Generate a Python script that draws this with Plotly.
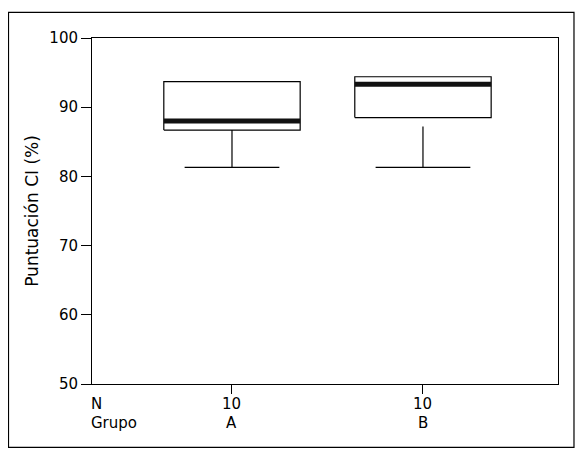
import plotly.graph_objects as go

# ---- data ----
groups = ["A", "B"]
n_values = [10, 10]
q1 = [86.7, 88.5]
median = [88.0, 93.3]
q3 = [93.7, 94.4]
whisker_start = [86.7, 87.2]
whisker_low = [81.3, 81.3]
y_ticks = [50, 60, 70, 80, 90, 100]

BOX_HW = 0.357
CAP_HW = 0.248
FONT = "DejaVu Sans, Liberation Sans, Arial, sans-serif"
ROW1_Y = -0.0578
ROW2_Y = -0.1127

fig = go.Figure()
for i, g in enumerate(groups):
    c = i
    fig.add_trace(go.Scatter(
        x=[c - BOX_HW, c + BOX_HW, c + BOX_HW, c - BOX_HW, c - BOX_HW],
        y=[q1[i], q1[i], q3[i], q3[i], q1[i]],
        mode="lines", line=dict(color="black", width=1.2),
        showlegend=False, hoverinfo="skip"))
    fig.add_trace(go.Scatter(
        x=[c - BOX_HW, c + BOX_HW], y=[median[i], median[i]],
        mode="lines", line=dict(color="#111111", width=5),
        showlegend=False, hoverinfo="skip"))
    fig.add_trace(go.Scatter(
        x=[c, c], y=[whisker_start[i], whisker_low[i]],
        mode="lines", line=dict(color="black", width=1.2),
        showlegend=False, hoverinfo="skip"))
    fig.add_trace(go.Scatter(
        x=[c - CAP_HW, c + CAP_HW], y=[whisker_low[i], whisker_low[i]],
        mode="lines", line=dict(color="black", width=1.2),
        showlegend=False, hoverinfo="skip"))

lab_font = dict(family=FONT, size=15, color="black")
annotations = [
    dict(text="N", xref="paper", yref="paper", x=-0.0058, y=ROW1_Y,
         xanchor="left", yanchor="middle", showarrow=False, font=lab_font),
    dict(text="Grupo", xref="paper", yref="paper", x=-0.0058, y=ROW2_Y,
         xanchor="left", yanchor="middle", showarrow=False, font=lab_font),
]
for i, g in enumerate(groups):
    annotations.append(dict(
        text=str(n_values[i]), xref="x", yref="paper", x=i, y=ROW1_Y,
        xanchor="center", yanchor="middle", showarrow=False, font=lab_font))
    annotations.append(dict(
        text=g, xref="x", yref="paper", x=i, y=ROW2_Y,
        xanchor="center", yanchor="middle", showarrow=False, font=lab_font))

fig.update_layout(
    width=579, height=447,
    margin=dict(l=84, r=29, t=30, b=71),
    paper_bgcolor="white", plot_bgcolor="white",
    font=dict(family=FONT, size=15, color="black"),
    xaxis=dict(
        range=[-0.733, 1.707],
        tickmode="array",
        tickvals=list(range(len(groups))),
        showticklabels=False,
        ticks="outside", ticklen=9, tickcolor="black", tickwidth=1,
        showline=True, linecolor="black", linewidth=1, mirror=True,
        showgrid=False, zeroline=False,
    ),
    yaxis=dict(
        range=[50, 100],
        tickmode="array", tickvals=y_ticks,
        tickfont=dict(size=15),
        ticks="outside", ticklen=10, tickcolor="black", tickwidth=1,
        showline=True, linecolor="black", linewidth=1, mirror=True,
        showgrid=False, zeroline=False,
        title=dict(text="Puntuación CI (%)", standoff=6,
                   font=dict(size=17)),
    ),
    annotations=annotations,
    shapes=[dict(
        type="rect", xref="paper", yref="paper",
        x0=-0.1792, x1=1.0343, y0=-0.183, y1=1.0743,
        line=dict(color="black", width=1.2), fillcolor="rgba(0,0,0,0)",
        layer="below",
    )],
)

fig.write_html("out.html")
